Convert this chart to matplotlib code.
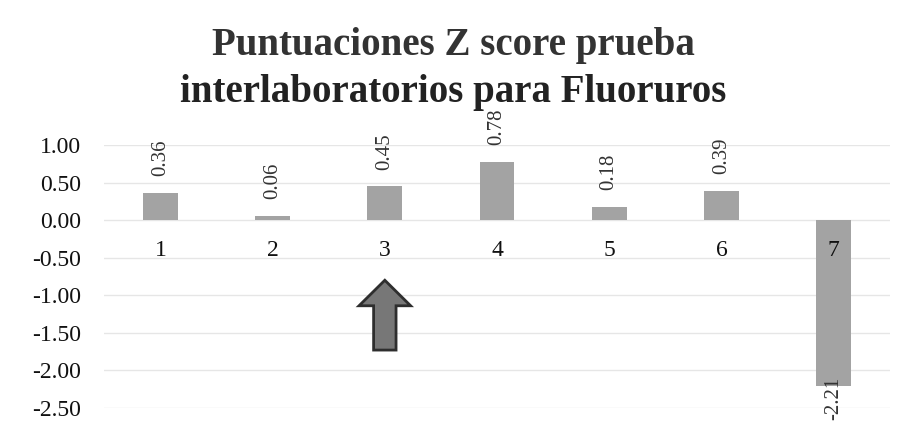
import matplotlib.pyplot as plt
from matplotlib.patches import FancyArrow
from matplotlib.ticker import FormatStrFormatter

labs = ["1", "2", "3", "4", "5", "6", "7"]
zscore = [0.36, 0.06, 0.45, 0.78, 0.18, 0.39, -2.21]
yticks = [1.0, 0.5, 0.0, -0.5, -1.0, -1.5, -2.0, -2.5]

plt.rcParams["font.family"] = ["Liberation Serif", "DejaVu Serif"]

fig = plt.figure(figsize=(9.07, 4.28), dpi=100)
ax = fig.add_axes([0.115, 0.047, 0.866, 0.614])

x = list(range(len(labs)))
bars = ax.bar(x, zscore, width=0.31, color="#a3a3a3", zorder=2)

ax.set_xlim(-0.5, len(labs) - 0.5)
ax.set_ylim(-2.5, 1.0)
ax.set_yticks(yticks)
ax.yaxis.set_major_formatter(FormatStrFormatter("%.2f"))
ax.tick_params(axis="y", length=0, labelsize=17, pad=17, labelcolor="#111111")
ax.grid(axis="y", color="#e6e6e6", linewidth=1, zorder=0)
for s in ax.spines.values():
    s.set_visible(False)

# category labels sit just under the zero line
ax.set_xticks([])
for xi, lab in zip(x, labs):
    ax.text(xi, -0.4, lab, ha="center", va="center", fontsize=17, color="#111111", zorder=3)

# rotated data labels
for xi, v in zip(x, zscore):
    if v >= 0:
        ax.annotate(f"{v:.2f}", (xi, v), xytext=(0, 12), textcoords="offset points",
                    rotation=90, ha="center", va="bottom", fontsize=15, color="#333333",
                    annotation_clip=False)
    else:
        ax.annotate(f"{v:.2f}", (xi, v), xytext=(0, 7), textcoords="offset points",
                    rotation=90, ha="center", va="top", fontsize=15, color="#333333",
                    annotation_clip=False)

arrow = FancyArrow(2, -1.73, 0, 0.93, width=0.2, head_width=0.46, head_length=0.34,
                   length_includes_head=True, facecolor="#777777", edgecolor="#2e2e2e",
                   linewidth=2, zorder=4)
ax.add_patch(arrow)

fig.text(0.5, 0.871, "Puntuaciones Z score prueba", ha="center", va="baseline",
         fontsize=28, fontweight="bold", color="#333333")
fig.text(0.5, 0.762, "interlaboratorios para Fluoruros", ha="center", va="baseline",
         fontsize=28, fontweight="bold", color="#222222")

fig.savefig("out.png", dpi=100)
